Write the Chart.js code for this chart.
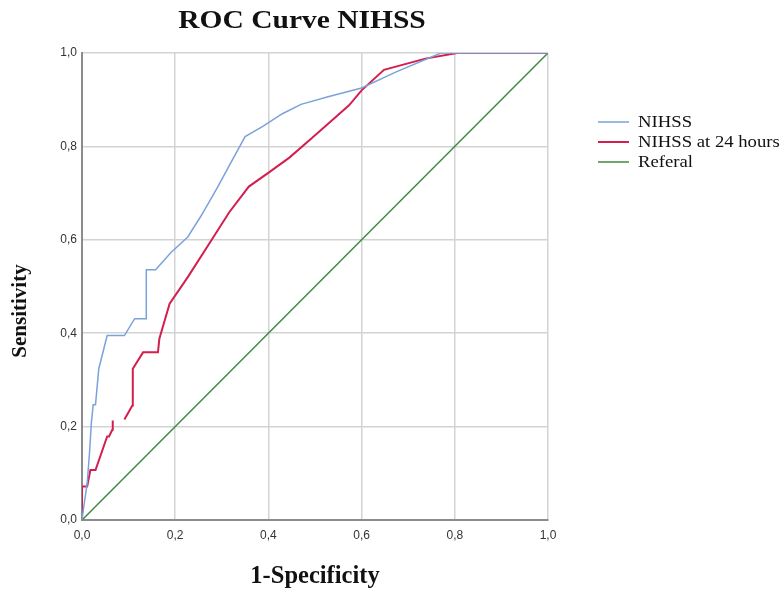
<!DOCTYPE html>
<html>
<head>
<meta charset="utf-8">
<script src="https://cdn.jsdelivr.net/npm/chart.js@4/dist/chart.umd.min.js"></script>
<style>
  html, body { margin: 0; padding: 0; background: #ffffff; }
  #wrap { width: 783px; height: 589px; }
</style>
</head>
<body>
<div id="wrap"><canvas id="c" width="783" height="589"></canvas></div>
<script>
// ---- Data ----
const chartTitle = 'ROC Curve NIHSS';
const xAxisTitle = '1-Specificity';
const yAxisTitle = 'Sensitivity';
const seriesLabels = ['NIHSS', 'NIHSS at 24 hours', 'Referal'];
const tickLabels = ['0,0', '0,2', '0,4', '0,6', '0,8', '1,0'];

const nihssX = [0, 0.004, 0.011, 0.016, 0.020, 0.024, 0.029, 0.036, 0.054, 0.091, 0.113, 0.138, 0.138, 0.158, 0.191, 0.227, 0.256, 0.291, 0.316, 0.350, 0.388, 0.430, 0.470, 0.530, 0.600, 0.673, 0.770, 1.0];
const nihssY = [0, 0.030, 0.078, 0.142, 0.207, 0.247, 0.247, 0.324, 0.395, 0.395, 0.431, 0.431, 0.536, 0.536, 0.573, 0.606, 0.652, 0.713, 0.759, 0.821, 0.843, 0.870, 0.890, 0.907, 0.925, 0.959, 1.0, 1.0];

const nihss24X = [0, 0, 0.011, 0.018, 0.029, 0.054, 0.058, 0.065, 0.066, 0.078, 0.091, 0.108, 0.109, 0.131, 0.163, 0.166, 0.188, 0.227, 0.277, 0.316, 0.358, 0.402, 0.445, 0.491, 0.530, 0.573, 0.600, 0.648, 0.737, 0.805, 1.0];
const nihss24Y = [0, 0.072, 0.072, 0.107, 0.107, 0.179, 0.179, 0.193, 0.213, null, 0.215, 0.245, 0.324, 0.359, 0.359, 0.388, 0.463, 0.520, 0.598, 0.659, 0.714, 0.745, 0.776, 0.816, 0.850, 0.888, 0.920, 0.964, 0.988, 1.0, 1.0];

const referalX = [0, 1];
const referalY = [0, 1];

const seriesColors = ['#7ba2da', '#d21f4e', '#3f8a3f'];
const seriesWidths = [1.5, 2, 1.5];

function toPoints(xs, ys) { return xs.map((x, i) => ({ x: x, y: ys[i] })); }

const SERIF = '"Liberation Serif", "Times New Roman", serif';
const SANS = '"Liberation Sans", Arial, sans-serif';

function stretchedText(ctx, text, x, y, sx) {
  ctx.save();
  ctx.translate(x, y);
  ctx.scale(sx, 1);
  ctx.fillText(text, 0, 0);
  ctx.restore();
}

const extrasPlugin = {
  id: 'extras',
  afterDraw(chart) {
    const ctx = chart.ctx;
    ctx.save();
    // Chart title
    ctx.fillStyle = '#111111';
    ctx.font = 'bold 25px ' + SERIF;
    ctx.textAlign = 'center';
    ctx.textBaseline = 'middle';
    stretchedText(ctx, chartTitle, 302, 22, 1.18);
    // Y axis title
    ctx.save();
    ctx.translate(21, 311);
    ctx.rotate(-Math.PI / 2);
    ctx.font = 'bold 21px ' + SERIF;
    ctx.fillText(yAxisTitle, 0, 0);
    ctx.restore();
    // Legend
    ctx.textAlign = 'left';
    ctx.font = '17px ' + SERIF;
    chart.data.datasets.forEach((ds, i) => {
      const y = 122 + i * 20;
      ctx.strokeStyle = ds.borderColor;
      ctx.lineWidth = ds.borderWidth;
      ctx.beginPath();
      ctx.moveTo(598, y);
      ctx.lineTo(629, y);
      ctx.stroke();
      ctx.fillStyle = '#111111';
      stretchedText(ctx, ds.label, 638, y + 1, 1.1);
    });
    ctx.restore();
  }
};

new Chart(document.getElementById('c'), {
  type: 'line',
  data: {
    datasets: [
      { label: seriesLabels[0], data: toPoints(nihssX, nihssY), borderColor: seriesColors[0], borderWidth: seriesWidths[0] },
      { label: seriesLabels[1], data: toPoints(nihss24X, nihss24Y), borderColor: seriesColors[1], borderWidth: seriesWidths[1] },
      { label: seriesLabels[2], data: toPoints(referalX, referalY), borderColor: seriesColors[2], borderWidth: seriesWidths[2] }
    ]
  },
  options: {
    responsive: false,
    animation: false,
    devicePixelRatio: 1,
    spanGaps: false,
    elements: {
      point: { radius: 0, hoverRadius: 0 },
      line: { tension: 0, fill: false }
    },
    layout: { padding: { top: 53, right: 235, bottom: 0, left: 0 } },
    plugins: {
      legend: { display: false },
      title: { display: false },
      tooltip: { enabled: false }
    },
    scales: {
      x: {
        type: 'linear',
        min: 0, max: 1,
        afterFit(s) { s.height = 69; },
        ticks: {
          stepSize: 0.2,
          padding: 8,
          color: '#333333',
          font: { family: SANS, size: 12 },
          callback: (v) => tickLabels[Math.round(v * 5)]
        },
        grid: { color: '#d3d3d3', lineWidth: 1.5, drawTicks: false },
        border: { color: '#8c8c8c', width: 2 },
        title: {
          display: true,
          text: xAxisTitle,
          color: '#111111',
          font: { family: SERIF, size: 24.5, weight: 'bold', lineHeight: 1 },
          padding: { top: 0, bottom: 0 }
        }
      },
      y: {
        type: 'linear',
        min: 0, max: 1,
        afterFit(s) { s.width = 82; },
        ticks: {
          stepSize: 0.2,
          padding: 5,
          color: '#333333',
          font: { family: SANS, size: 12 },
          callback: (v) => tickLabels[Math.round(v * 5)]
        },
        grid: { color: '#d3d3d3', lineWidth: 1.5, drawTicks: false },
        border: { color: '#8c8c8c', width: 2 },
        title: { display: false }
      }
    }
  },
  plugins: [extrasPlugin]
});
</script>
</body>
</html>
